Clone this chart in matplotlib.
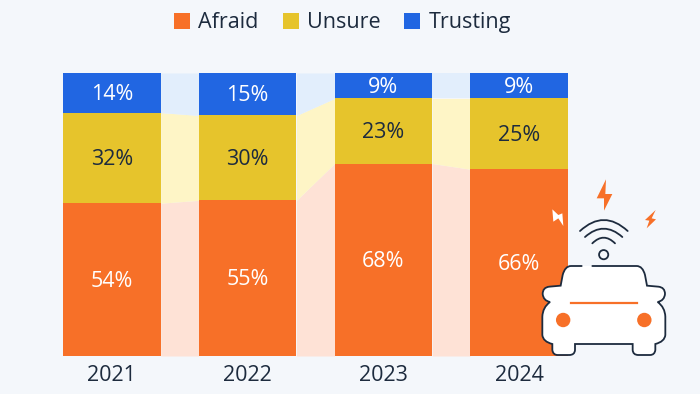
import matplotlib
matplotlib.use("Agg")
import matplotlib.pyplot as plt
import numpy as np
from matplotlib.path import Path
from matplotlib.patches import PathPatch, Circle, Polygon, Rectangle

plt.rcParams['font.family'] = ['Open Sans', 'DejaVu Sans']

years = ["2021", "2022", "2023", "2024"]
afraid = [54, 55, 68, 66]
unsure = [32, 30, 23, 25]
trusting = [14, 15, 9, 9]
series_names = ["Afraid", "Unsure", "Trusting"]

BG = "#F4F7FB"
COLORS = ["#F77028", "#E6C42C", "#2166E2"]
BANDS = ["#FEE2D6", "#FEF5C6", "#E2EEFC"]
INK = "#1D2B3E"
W, H = 700, 394
BW = 0.72
FS = 15.5

fig = plt.figure(figsize=(W/100, H/100), dpi=100, facecolor=BG)
ax = fig.add_axes([63/W, 1-356/H, 505/W, 283/H])
ax.set_facecolor("none")
x = np.arange(len(years))
vals = [np.array(afraid), np.array(unsure), np.array(trusting)]
bottom = np.zeros(len(years))
for i, v in enumerate(vals):
    for j in range(len(years)-1):
        ax.fill_between([x[j]+BW/2, x[j+1]-BW/2],
                        [bottom[j], bottom[j+1]],
                        [bottom[j]+v[j], bottom[j+1]+v[j+1]],
                        color=BANDS[i], lw=0, zorder=1)
    ax.bar(x, v, BW, bottom=bottom, color=COLORS[i], lw=0, zorder=2)
    for j in range(len(years)):
        ax.annotate(f"{v[j]}%", (x[j], bottom[j]+v[j]/2), xytext=(0, -1.2),
                    textcoords="offset points",
                    ha="center", va="center", fontsize=FS, zorder=3,
                    color=INK if i == 1 else "white")
    bottom = bottom + v
ax.set_xlim(-BW/2, 3+BW/2)
ax.set_ylim(0, 100)
ax.set_yticks([])
ax.set_xticks(x, years)
ax.tick_params(axis="x", length=0, labelsize=FS, labelcolor=INK, pad=6.7)
for s in ax.spines.values():
    s.set_visible(False)

# overlay in image pixels for legend swatches and icon
ov = fig.add_axes([0, 0, 1, 1])
ov.set_xlim(0, W); ov.set_ylim(H, 0); ov.axis("off"); ov.patch.set_alpha(0)

for name, c, sx, tx in zip(series_names, COLORS, [174, 283, 404], [198, 307, 429]):
    ov.add_patch(Rectangle((sx, 13), 16, 16, color=c, lw=0))
    ov.text(tx, 22, name, fontsize=FS, color=INK, ha="left", va="center")

def Z(px, py):
    return (530+px/3, 170+py/3)

def P(cmds):
    vs, cs = [], []
    for c in cmds:
        if c[0] == "M":
            vs.append(Z(*c[1])); cs.append(Path.MOVETO)
        elif c[0] == "L":
            vs.append(Z(*c[1])); cs.append(Path.LINETO)
        elif c[0] == "Q":
            vs += [Z(*c[1]), Z(*c[2])]; cs += [Path.CURVE3]*2
    return Path(vs, cs)

C = 221.5
right = [("L",(320,288)),("Q",(338,288),(345,315)),("L",(351,347)),("L",(385,350)),
         ("Q",(405,352),(405,372)),("Q",(403,392),(383,396)),("Q",(405,412),(406,440)),
         ("L",(406,495)),("Q",(404,515),(376,522)),("L",(376,540)),("Q",(374,555),(360,555)),
         ("L",(325,555)),("Q",(309,555),(308,540)),("L",(308,522))]
end_pts = [c[-1] for c in right]
m = lambda p: (2*C-p[0], p[1])
mirror = []
for k in range(len(right)-1, 0, -1):
    c, prev = right[k], end_pts[k-1]
    mirror.append(("L", m(prev)) if c[0] == "L" else ("Q", m(c[1]), m(prev)))
outline = [("M",(187,288))] + right + [("L",m((308,522)))] + mirror + [("L",(155,288))]
ov.add_patch(PathPatch(P(outline), fc="white", ec="none", zorder=5))
ov.add_patch(PathPatch(P(outline), fc="none", ec=INK, lw=1.3, zorder=6, capstyle="round"))
ov.plot(*zip(Z(122,398), Z(320,398)), color=COLORS[0], lw=1.6, zorder=7)
for px in (99.5, 343):
    ov.add_patch(Circle(Z(px,450), 7.2, color=COLORS[0], lw=0, zorder=7))
ov.add_patch(Circle(Z(221,254), 4.6, fc="none", ec=INK, lw=1.3, zorder=7))
for a, b, top in [((187,220),(255,220),203),((165,201),(277,201),176),((150,183),(293,183),150)]:
    ctrl = ((a[0]+b[0])/2, 2*top-a[1])
    ov.add_patch(PathPatch(P([("M",a),("Q",ctrl,b)]), fc="none", ec=INK, lw=1.3, zorder=7, capstyle="round"))
for pts, col in [([(228,28),(200,85),(222,85),(222,122),(247,72),(226,72)], COLORS[0]),
                 ([(377,120),(345,150),(358,152),(350,175),(378,148),(365,145)], COLORS[0]),
                 ([(67,118),(70,155),(85,145),(100,168),(97,130),(85,135)], "white")]:
    ov.add_patch(Polygon([Z(*p) for p in pts], closed=True, color=col, lw=0, zorder=7))

fig.savefig("out.png", dpi=100, facecolor=BG)
